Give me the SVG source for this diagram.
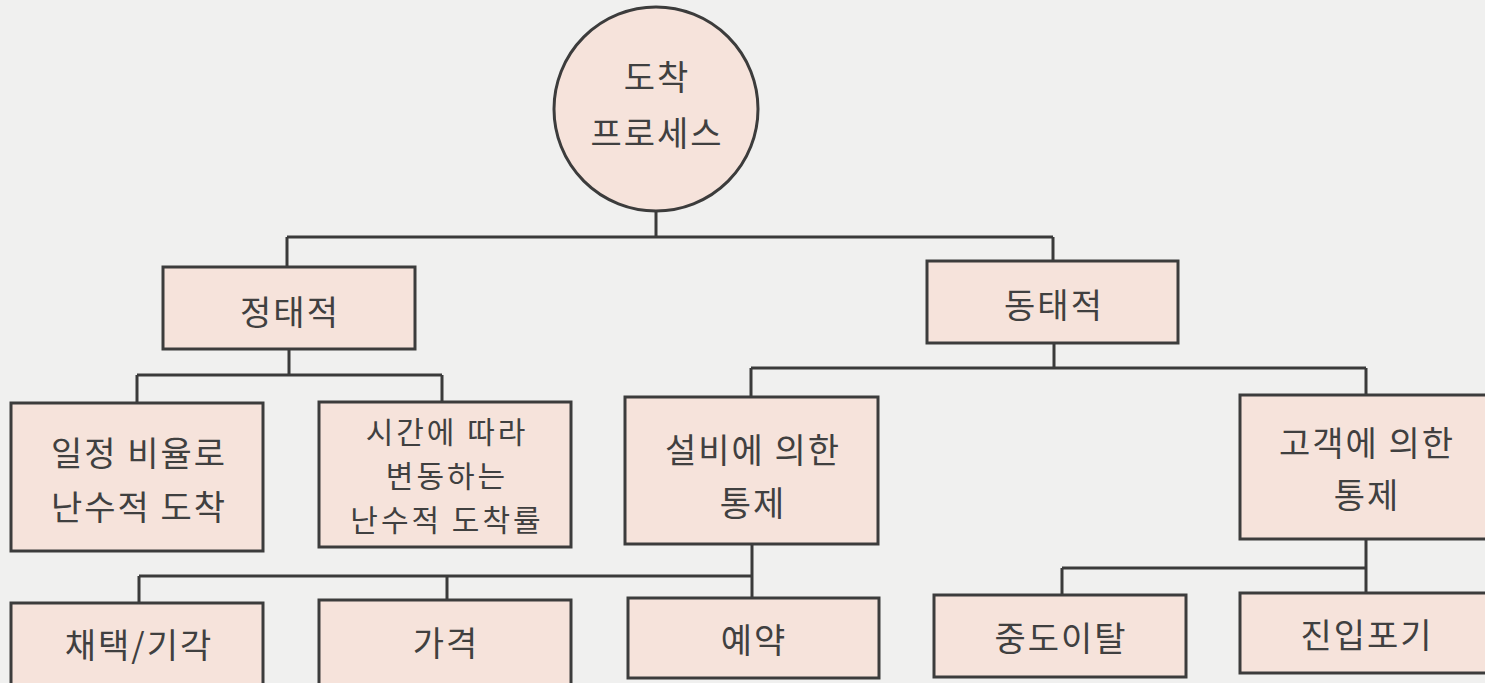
<svg xmlns="http://www.w3.org/2000/svg" width="1485" height="683" viewBox="0 0 1485 683">
<style>
.bg{fill:#f0f0ef}
.box{fill:#f6e3db;stroke:#3c3c3c;stroke-width:3}
.ln{fill:none;stroke:#3a3a3a;stroke-width:3}
.t{font-family:"Noto Sans CJK KR","Noto Sans CJK SC",sans-serif;font-size:34px;fill:#404040;text-anchor:middle;letter-spacing:2px}
.s{font-size:30px;letter-spacing:3px}
</style>
<rect class="bg" x="0" y="0" width="1485" height="683"/>
<g id="connectors">
<path class="ln" d="M656,211 V237 M287,237 H1053 M287,237 V267 M1053,237 V261"/>
<path class="ln" d="M289,349 V375 M137,375 H442 M137,375 V403 M442,375 V402"/>
<path class="ln" d="M1054,343 V368 M751,368 H1366 M751,368 V397 M1366,368 V395"/>
<path class="ln" d="M752,544 V598 M139,576 H752 M139,576 V603 M447,576 V600"/>
<path class="ln" d="M1366,539 V593 M1062,568 H1366 M1062,568 V595"/>
</g>
<g id="n-root">
<circle class="box" cx="656" cy="109" r="102"/>
<text class="t" x="657" y="90">도착</text>
<text class="t" x="657" y="146">프로세스</text>
</g>
<g id="n-static">
<rect class="box" x="163" y="267" width="252" height="82"/>
<text class="t" x="290" y="325">정태적</text>
</g>
<g id="n-dynamic">
<rect class="box" x="927" y="261" width="251" height="82"/>
<text class="t" x="1054" y="318">동태적</text>
</g>
<g id="n-constant">
<rect class="box" x="11" y="403" width="252" height="148"/>
<text class="t" x="139" y="466">일정 비율로</text>
<text class="t" x="139" y="520">난수적 도착</text>
</g>
<g id="n-varying">
<rect class="box" x="319" y="402" width="252" height="145"/>
<text class="t s" x="447" y="443">시간에 따라</text>
<text class="t s" x="447" y="487">변동하는</text>
<text class="t s" x="447" y="531">난수적 도착률</text>
</g>
<g id="n-facility">
<rect class="box" x="625" y="397" width="253" height="147"/>
<text class="t" x="753" y="463">설비에 의한</text>
<text class="t" x="753" y="516">통제</text>
</g>
<g id="n-customer">
<rect class="box" x="1240" y="395" width="250" height="144"/>
<text class="t" x="1367" y="456">고객에 의한</text>
<text class="t" x="1367" y="508">통제</text>
</g>
<g id="n-accept">
<rect class="box" x="11" y="603" width="252" height="90"/>
<text class="t" x="139" y="658">채택/기각</text>
</g>
<g id="n-price">
<rect class="box" x="319" y="600" width="252" height="93"/>
<text class="t" x="446" y="656">가격</text>
</g>
<g id="n-reserve">
<rect class="box" x="628" y="598" width="251" height="80"/>
<text class="t" x="754" y="653">예약</text>
</g>
<g id="n-reneging">
<rect class="box" x="934" y="595" width="252" height="82"/>
<text class="t" x="1061" y="651">중도이탈</text>
</g>
<g id="n-balking">
<rect class="box" x="1240" y="593" width="250" height="80"/>
<text class="t" x="1367" y="648">진입포기</text>
</g>
</svg>
